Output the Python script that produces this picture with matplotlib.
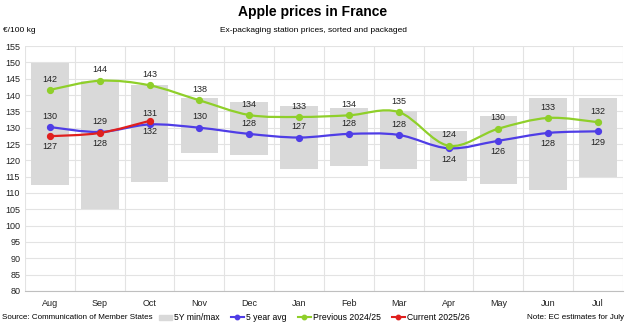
import numpy as np
import matplotlib.pyplot as plt
from matplotlib.path import Path
from matplotlib.patches import PathPatch, Patch
from matplotlib.lines import Line2D

plt.rcParams['font.family'] = ['Liberation Sans', 'DejaVu Sans']

months = ['Aug', 'Sep', 'Oct', 'Nov', 'Dec', 'Jan', 'Feb', 'Mar', 'Apr', 'May', 'Jun', 'Jul']
min5y = [112.5, 105.2, 113.5, 122.4, 121.7, 117.3, 118.4, 117.4, 113.8, 112.8, 111.0, 115.0]
max5y = [149.7, 144.3, 143.1, 139.0, 138.0, 136.7, 136.1, 135.1, 129.1, 133.6, 139.2, 139.2]
avg5y = [130.2, 128.7, 131.0, 130.0, 128.1, 127.0, 128.1, 127.8, 123.7, 126.0, 128.4, 128.9]
prev = [141.6, 144.4, 143.0, 138.4, 133.9, 133.3, 133.8, 134.8, 124.5, 129.7, 133.0, 131.7]
curr = [127.4, 128.4, 132.1]
avg_labels = [130, 129, 131, 130, 128, 127, 128, 128, 124, 126, 128, 129]
prev_labels = [142, 144, 143, 138, 134, 133, 134, 135, 124, 130, 133, 132]
curr_labels = [127, 128, 132]

c_bar = '#d9d9d9'
c_avg = '#4f3de6'
c_prev = '#8fcf2a'
c_curr = '#e0201e'


def smooth(ax, xs, ys, color):
    # Excel-like smoothed line (Catmull-Rom as cubic Bezier)
    pts = list(zip(xs, ys))
    verts = [pts[0]]
    codes = [Path.MOVETO]
    n = len(pts)
    for i in range(n - 1):
        p0 = pts[i - 1] if i > 0 else pts[i]
        p1 = pts[i]
        p2 = pts[i + 1]
        p3 = pts[i + 2] if i + 2 < n else pts[i + 1]
        c1 = (p1[0] + (p2[0] - p0[0]) / 6, p1[1] + (p2[1] - p0[1]) / 6)
        c2 = (p2[0] - (p3[0] - p1[0]) / 6, p2[1] - (p3[1] - p1[1]) / 6)
        verts += [c1, c2, p2]
        codes += [Path.CURVE4] * 3
    ax.add_patch(PathPatch(Path(verts, codes), fill=False, edgecolor=color, lw=1.6, zorder=3))
    ax.plot(xs, ys, 'o', color=color, ms=4.2, zorder=4)


fig = plt.figure(figsize=(6.26, 3.25), dpi=100)
ax = fig.add_axes([0.04, 0.105, 0.955, 0.753])

x = np.arange(len(months))
ax.bar(x, np.array(max5y) - np.array(min5y), bottom=min5y, width=0.755, color=c_bar, zorder=2)
smooth(ax, x, avg5y, c_avg)
smooth(ax, x, prev, c_prev)
smooth(ax, x[:len(curr)], curr, c_curr)

lab = dict(ha='center', fontsize=6.5, color='#222222', zorder=5, textcoords='offset points')
avg_above = [True] * 8 + [False] * 4
for i, v in enumerate(prev):
    ax.annotate(str(prev_labels[i]), (i, v), xytext=(0, 4.5), va='bottom', **lab)
for i, v in enumerate(avg5y):
    if avg_above[i]:
        ax.annotate(str(avg_labels[i]), (i, v), xytext=(0, 4.5), va='bottom', **lab)
    else:
        ax.annotate(str(avg_labels[i]), (i, v), xytext=(0, -4.5), va='top', **lab)
for i, v in enumerate(curr):
    ax.annotate(str(curr_labels[i]), (i, v), xytext=(0, -4.5), va='top', **lab)

ax.set_xlim(-0.5, 11.5)
ax.set_ylim(80, 155)
ax.set_yticks(np.arange(80, 156, 5))
ax.set_xticks(x)
ax.set_xticklabels(months)
ax.set_xticks(np.arange(-0.5, 12, 1), minor=True)
ax.grid(axis='y', color='#e3e3e3', lw=0.8, zorder=0)
ax.grid(axis='x', which='minor', color='#e3e3e3', lw=0.8, zorder=0)
ax.tick_params(axis='both', which='both', length=0, labelsize=6.5, colors='#222222')
ax.tick_params(axis='x', pad=6)
for s in ['top', 'right', 'left']:
    ax.spines[s].set_visible(False)
ax.spines['bottom'].set_color('#bfbfbf')

fig.text(0.5, 0.963, 'Apple prices in France', ha='center', va='center', fontsize=10, fontweight='bold')
fig.text(0.5, 0.905, 'Ex-packaging station prices, sorted and packaged', ha='center', va='center', fontsize=6)
fig.text(0.004, 0.905, '€/100 kg', ha='left', va='center', fontsize=6)
fig.text(0.003, 0.022, 'Source: Communication of Member States', ha='left', va='center', fontsize=5.8)
fig.text(0.997, 0.022, 'Note: EC estimates for July', ha='right', va='center', fontsize=5.8)

handles = [
    Patch(color=c_bar, label='5Y min/max'),
    Line2D([], [], color=c_avg, marker='o', ms=3.2, lw=1.5, label='5 year avg'),
    Line2D([], [], color=c_prev, marker='o', ms=3.2, lw=1.5, label='Previous 2024/25'),
    Line2D([], [], color=c_curr, marker='o', ms=3.2, lw=1.5, label='Current 2025/26'),
]
fig.legend(handles=handles, loc='center', bbox_to_anchor=(0.502, 0.022), ncol=4, frameon=False,
           fontsize=6.2, handlelength=1.5, handleheight=0.6, handletextpad=0.25, columnspacing=1.3)

fig.savefig('out.png', dpi=100)
